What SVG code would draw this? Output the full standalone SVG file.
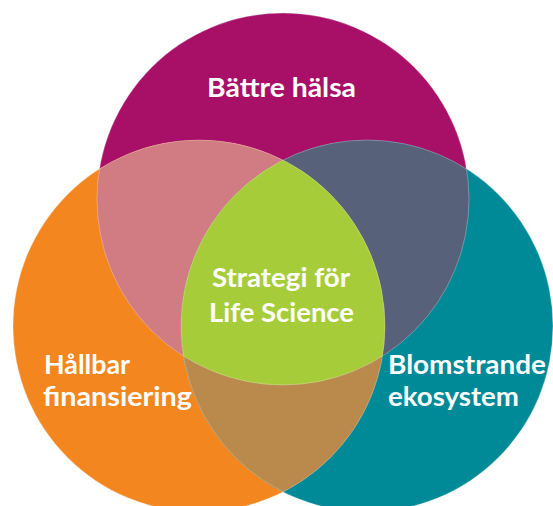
<svg xmlns="http://www.w3.org/2000/svg" width="553" height="506" viewBox="0 0 553 506">
  <style>
    .lbl { font-family: "Lato", "Open Sans", "Liberation Sans", sans-serif; font-weight: 700; font-size: 26px; fill: #ffffff; }
    .edge { fill: none; stroke: #ffffff; stroke-opacity: 0.35; stroke-width: 0.8; }
  </style>
  <defs>
    <circle id="cTop" cx="283" cy="199" r="186"/>
    <circle id="cLeft" cx="199" cy="326" r="186"/>
    <circle id="cRight" cx="367" cy="326" r="186"/>
    <clipPath id="clipTop"><use href="#cTop"/></clipPath>
    <clipPath id="clipLeft"><use href="#cLeft"/></clipPath>
    <clipPath id="clipRight"><use href="#cRight"/></clipPath>
  </defs>
  <rect width="553" height="506" fill="#ffffff"/>

  <g id="node-top">
    <use href="#cTop" fill="#A80F67"/>
  </g>
  <g id="node-left">
    <use href="#cLeft" fill="#F4861F"/>
  </g>
  <g id="node-right">
    <use href="#cRight" fill="#008A98"/>
  </g>

  <g id="overlap-top-left" clip-path="url(#clipLeft)">
    <use href="#cTop" fill="#D07C82"/>
  </g>
  <g id="overlap-top-right" clip-path="url(#clipRight)">
    <use href="#cTop" fill="#58617A"/>
  </g>
  <g id="overlap-left-right" clip-path="url(#clipRight)">
    <use href="#cLeft" fill="#B98A4C"/>
  </g>
  <g id="node-center" clip-path="url(#clipRight)">
    <g clip-path="url(#clipLeft)">
      <use href="#cTop" fill="#A6CD39"/>
    </g>
  </g>

  <g id="edges">
    <use href="#cTop" class="edge"/>
    <use href="#cLeft" class="edge"/>
    <use href="#cRight" class="edge"/>
  </g>

  <g id="labels">
    <text class="lbl" x="207" y="97" textLength="149" lengthAdjust="spacingAndGlyphs">Bättre hälsa</text>
    <text class="lbl" x="212" y="287" textLength="138" lengthAdjust="spacingAndGlyphs">Strategi för</text>
    <text class="lbl" x="209" y="322" textLength="145" lengthAdjust="spacingAndGlyphs">Life Science</text>
    <text class="lbl" x="44" y="374" textLength="86" lengthAdjust="spacingAndGlyphs">Hållbar</text>
    <text class="lbl" x="43" y="406" textLength="149" lengthAdjust="spacingAndGlyphs">finansiering</text>
    <text class="lbl" x="388" y="374" textLength="158" lengthAdjust="spacingAndGlyphs">Blomstrande</text>
    <text class="lbl" x="388" y="406" textLength="131" lengthAdjust="spacingAndGlyphs">ekosystem</text>
  </g>
</svg>
